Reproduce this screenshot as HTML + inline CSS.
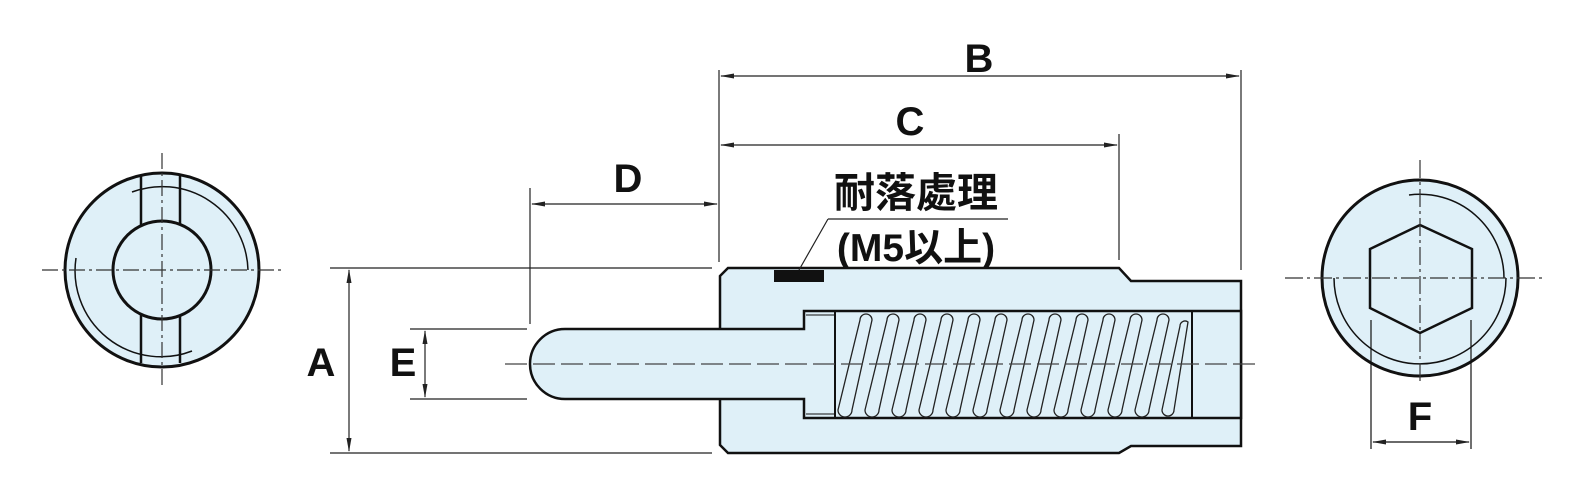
<!DOCTYPE html>
<html><head><meta charset="utf-8"><style>
html,body{margin:0;padding:0;background:#fff;}
svg{display:block;}
text{font-family:"Liberation Sans","Noto Sans CJK TC",sans-serif;font-weight:bold;fill:#111;}
</style></head><body>
<svg width="1595" height="497" viewBox="0 0 1595 497" xmlns="http://www.w3.org/2000/svg">
<defs>
<marker id="ar" markerWidth="14" markerHeight="8" refX="13" refY="4" orient="auto-start-reverse" markerUnits="userSpaceOnUse">
<path d="M0,1.5 L14,4 L0,6.5 Z" fill="#222"/>
</marker>
<path id="coil" d="M0,410 L22,320 A6,6 0 0 1 34,320 L14,410 A7,7 0 0 1 0,410 Z"/>
</defs>
<g stroke="#111" fill="none">
<circle cx="162" cy="270" r="97" fill="#dff0f8" stroke-width="3"/>
<path d="M141,176 V230 M180,176 V230 M141,310 V363 M180,310 V363" stroke-width="2.5"/>
<path d="M132,192 A86,86 0 0 1 248,270" stroke-width="1.5"/>
<path d="M76,258 A86,86 0 0 0 192,351" stroke-width="1.5"/>
<circle cx="162" cy="270" r="49" fill="#dff0f8" stroke-width="3"/>
<path d="M42,270 H282 M162,153 V385" stroke-width="1.2" stroke-dasharray="16,4,3,4" stroke="#333"/>
</g>
<g stroke="#111" stroke-width="2.5" fill="#dff0f8">
<path d="M728,268 H1119 L1131,281 H1241 V446 H1131 L1119,453 H728 L720,445 V276 Z"/>
<path d="M565,329 H804 V311 H1241 V418 H804 V399 H565 A35,35 0 0 1 565,329 Z"/>
<path d="M720,329 H804 M720,399 H804" stroke-width="2"/>
<path d="M835,311 V418 M1192,311 V418" stroke-width="2"/>
<path d="M806,315 H835 M806,414 H835" stroke-width="1"/>
</g>
<g stroke="#222" stroke-width="1.3" fill="none">
<use href="#coil" x="838"/><use href="#coil" x="865"/><use href="#coil" x="892"/>
<use href="#coil" x="919"/><use href="#coil" x="946"/><use href="#coil" x="973"/>
<use href="#coil" x="1000"/><use href="#coil" x="1027"/><use href="#coil" x="1054"/>
<use href="#coil" x="1081"/><use href="#coil" x="1108"/><use href="#coil" x="1135"/>
<path d="M1162,410 L1180,326 A5,5 0 0 1 1188,322 L1174,410 A6,6 0 0 1 1162,410 Z"/>
</g>
<rect x="774" y="270" width="50" height="12" fill="#111"/>
<path d="M505,364 H1260" stroke="#444" stroke-width="1.2" stroke-dasharray="22,6"/>
<g stroke="#222" stroke-width="1.2" fill="none">
<path d="M719,70 V262 M1241,70 V270 M1119,134 V260 M530,188 V324 M719,190 V262"/>
<path d="M330,268 H712 M330,453 H712 M410,329 H527 M410,399 H527"/>
<path d="M721,76 H1239" marker-start="url(#ar)" marker-end="url(#ar)"/>
<path d="M721,145 H1117" marker-start="url(#ar)" marker-end="url(#ar)"/>
<path d="M532,204 H717" marker-start="url(#ar)" marker-end="url(#ar)"/>
<path d="M349,270 V451" marker-start="url(#ar)" marker-end="url(#ar)"/>
<path d="M425,331 V397" marker-start="url(#ar)" marker-end="url(#ar)"/>
<path d="M828,219 H1008 M828,219 L799,270"/>
</g>
<text x="979" y="72" font-size="40" text-anchor="middle">B</text>
<text x="910" y="135" font-size="40" text-anchor="middle">C</text>
<text x="628" y="192" font-size="40" text-anchor="middle">D</text>
<text x="321" y="376" font-size="40" text-anchor="middle">A</text>
<text x="403" y="376" font-size="40" text-anchor="middle">E</text>
<text x="916" y="207" font-size="41" text-anchor="middle">耐落處理</text>
<text x="916" y="261" font-size="39" text-anchor="middle">(M5以上)</text>
<g stroke="#111" fill="none">
<circle cx="1420" cy="278" r="98" fill="#dff0f8" stroke-width="3"/>
<path d="M1409,195 A84,84 0 0 1 1504,278" stroke-width="1.5"/>
<path d="M1334,278 A86,86 0 0 0 1506,278" stroke-width="1.5"/>
<path d="M1420,225 L1472,249 V308 L1420,333 L1370,308 V249 Z" fill="#dff0f8" stroke-width="2.5"/>
<path d="M1285,278 H1545 M1420,160 V385" stroke-width="1.2" stroke-dasharray="18,4,3,4" stroke="#333"/>
<path d="M1371,320 V449 M1471,320 V449" stroke-width="1.2"/>
<path d="M1373,442 H1469" stroke-width="1.2" marker-start="url(#ar)" marker-end="url(#ar)"/>
</g>
<text x="1420" y="430" font-size="40" text-anchor="middle">F</text>
</svg>
</body></html>
